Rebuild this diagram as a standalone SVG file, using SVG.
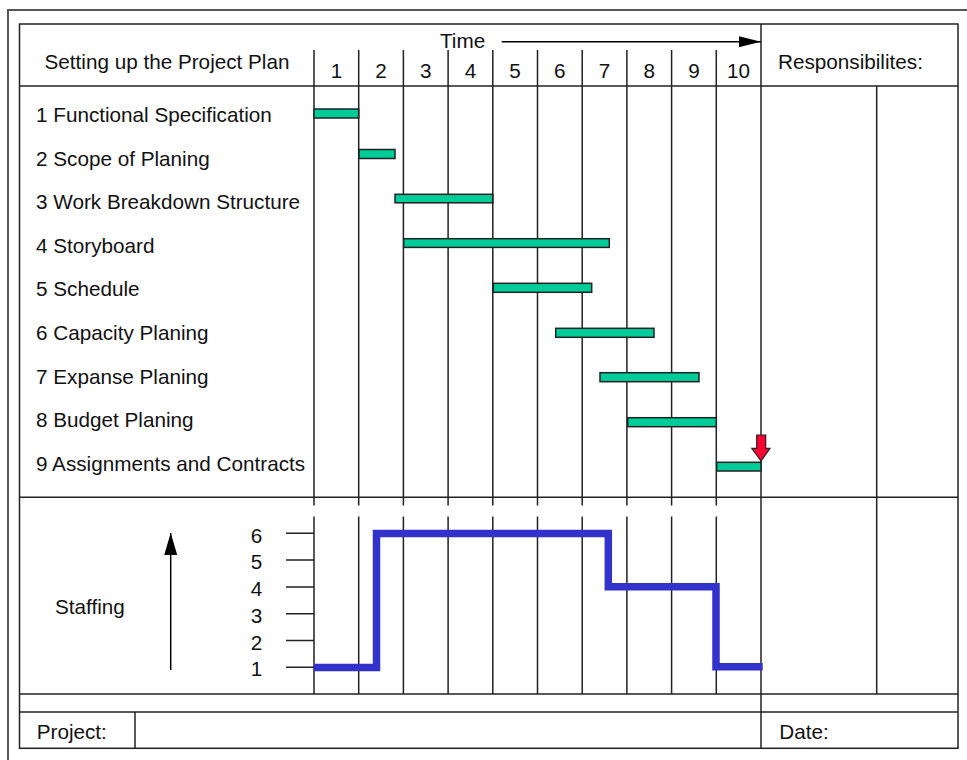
<svg xmlns="http://www.w3.org/2000/svg" width="967" height="760" viewBox="0 0 967 760">
<style>
  text { font-family: "Liberation Sans", Arial, sans-serif; font-size: 20.7px; fill: #111; }
  .c { text-anchor: middle; }
  .ln { stroke: #222; stroke-width: 1.5; fill: none; }
  .frame { stroke: #555; stroke-width: 2; fill: none; }
  .bar { fill: #00CC99; stroke: #222; stroke-width: 1.5; }
  .staff { fill: none; stroke: #3333CC; stroke-width: 7.5; stroke-linejoin: miter; }
</style>
<defs>
  <marker id="ah" viewBox="0 0 22 11" refX="22" refY="5.5" markerWidth="22" markerHeight="11" markerUnits="userSpaceOnUse" orient="auto">
    <path d="M0,0 L22,5.5 L0,11 Z" fill="#000"/>
  </marker>
  <marker id="ahv" viewBox="0 0 22 13" refX="22" refY="6.5" markerWidth="22" markerHeight="13" markerUnits="userSpaceOnUse" orient="auto">
    <path d="M0,0 L22,6.5 L0,13 Z" fill="#000"/>
  </marker>
</defs>
<rect width="967" height="760" fill="#fff"/>
<g id="frame">
  <rect class="frame" x="8" y="10" width="970" height="760"/>
  <rect class="ln" x="19.5" y="24" width="938.5" height="724.3"/>
  <line class="ln" x1="19.5" y1="86" x2="958" y2="86"/>
  <line class="ln" x1="19.5" y1="497.3" x2="958" y2="497.3"/>
  <line class="ln" x1="19.5" y1="694" x2="958" y2="694"/>
  <line class="ln" x1="19.5" y1="712" x2="958" y2="712"/>
  <line class="ln" x1="761" y1="24" x2="761" y2="748.3"/>
  <line class="ln" x1="876.7" y1="86" x2="876.7" y2="694"/>
  <line class="ln" x1="135" y1="712" x2="135" y2="748.3"/>
</g>
<g id="grid">
  <path class="ln" d="M314,50V505.5M314,516.5V694 M358.7,50V505.5M358.7,516.5V694 M403.4,50V505.5M403.4,516.5V694 M448.1,50V505.5M448.1,516.5V694 M492.8,50V505.5M492.8,516.5V694 M537.5,50V505.5M537.5,516.5V694 M582.2,50V505.5M582.2,516.5V694 M626.9,50V505.5M626.9,516.5V694 M671.6,50V505.5M671.6,516.5V694 M716.3,50V505.5M716.3,516.5V694"/>
</g>
<g id="header">
  <text class="c" x="167" y="68.5">Setting up the Project Plan</text>
  <text x="440" y="48">Time</text>
  <text x="778" y="68.5">Responsibilites:</text>
  <text class="c" x="336.4" y="77.5">1</text>
  <text class="c" x="381" y="77.5">2</text>
  <text class="c" x="425.7" y="77.5">3</text>
  <text class="c" x="470.4" y="77.5">4</text>
  <text class="c" x="515.1" y="77.5">5</text>
  <text class="c" x="559.8" y="77.5">6</text>
  <text class="c" x="604.5" y="77.5">7</text>
  <text class="c" x="649.2" y="77.5">8</text>
  <text class="c" x="693.9" y="77.5">9</text>
  <text class="c" x="738.6" y="77.5">10</text>
</g>
<g id="task1"><text x="36" y="122">1 Functional Specification</text><rect class="bar" x="314" y="109" width="44.7" height="9"/></g>
<g id="task2"><text x="36" y="165.6">2 Scope of Planing</text><rect class="bar" x="359" y="149.5" width="36" height="9"/></g>
<g id="task3"><text x="36" y="209.2">3 Work Breakdown Structure</text><rect class="bar" x="395" y="194.3" width="97.8" height="8.5"/></g>
<g id="task4"><text x="36" y="252.8">4 Storyboard</text><rect class="bar" x="403.7" y="238.7" width="205.6" height="8.7"/></g>
<g id="task5"><text x="36" y="296.4">5 Schedule</text><rect class="bar" x="493.3" y="283.3" width="98.4" height="9"/></g>
<g id="task6"><text x="36" y="340">6 Capacity Planing</text><rect class="bar" x="555.7" y="328.3" width="98.3" height="9"/></g>
<g id="task7"><text x="36" y="383.6">7 Expanse Planing</text><rect class="bar" x="600" y="372.7" width="99" height="9"/></g>
<g id="task8"><text x="36" y="427.2">8 Budget Planing</text><rect class="bar" x="627.7" y="417.7" width="88.6" height="9"/></g>
<g id="task9"><text x="36" y="470.8">9 Assignments and Contracts</text><rect class="bar" x="716.7" y="462.3" width="44.3" height="8.7"/></g>
<g id="milestone">
  <path d="M756.7,435 H765.7 V448.3 H770 L761,461 L751.8,448.3 H756.7 Z" fill="#FF0033" stroke="#222" stroke-width="1.2"/>
</g>
<g id="staffing">
  <text x="55" y="614">Staffing</text>
  <path class="ln" d="M286,533.3H314 M286,560H314 M286,586.9H314 M286,613.7H314 M286,640.4H314 M286,667.3H314"/>
  <text class="c" x="256.5" y="542.7">6</text>
  <text class="c" x="256.5" y="569.4">5</text>
  <text class="c" x="256.5" y="596.1">4</text>
  <text class="c" x="256.5" y="622.8">3</text>
  <text class="c" x="256.5" y="649.5">2</text>
  <text class="c" x="256.5" y="676">1</text>
  <path class="staff" d="M314,667.5 H376.5 V533.5 H608.3 V586.8 H716 V666.8 H762.7"/>
</g>
<g id="connectors">
  <line x1="501.7" y1="41.7" x2="761" y2="41.7" stroke="#000" stroke-width="1.5" marker-end="url(#ah)"/>
  <line x1="170.7" y1="670" x2="170.7" y2="533" stroke="#000" stroke-width="1.5" marker-end="url(#ahv)"/>
</g>
<g id="footer">
  <text x="36.7" y="739">Project:</text>
  <text x="779.3" y="739">Date:</text>
</g>
</svg>
